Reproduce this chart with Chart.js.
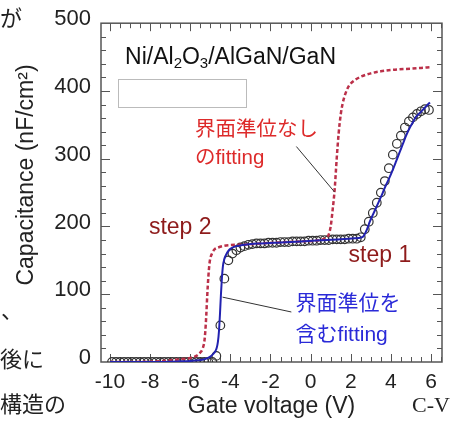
<!DOCTYPE html>
<html>
<head>
<meta charset="utf-8">
<script src="https://cdn.jsdelivr.net/npm/chart.js@4.4.0/dist/chart.umd.min.js"></script>
<style>
  html, body { margin: 0; padding: 0; background: #fff; }
  #wrap { position: relative; width: 450px; height: 423px; overflow: hidden; }
  #cv { position: absolute; left: 0; top: 0; }
  .frag { position: absolute; font-family: "Noto Sans CJK JP", sans-serif; font-size: 22px; line-height: 22px; color: #222; white-space: nowrap; }
  .cvlabel { font-family: "Liberation Serif", serif; font-size: 22px; line-height: 22px; }
</style>
</head>
<body>
<div id="wrap">
  <canvas id="cv" width="450" height="423"></canvas>
  <div class="frag" style="left:0;top:5px">が</div>
  <div class="frag" style="left:1px;top:297px">、</div>
  <div class="frag" style="left:0;top:346px">後に</div>
  <div class="frag" style="left:0;top:391px">構造の</div>
  <div class="frag cvlabel" style="left:412px;top:394px">C-V</div>
</div>
<script>
// Измеренные точки C-V (кружки)
const measVoltage = [
  -9.9, -9.7, -9.5, -9.3, -9.1, -8.9, -8.7, -8.5, -8.3, -8.1,
  -7.9, -7.7, -7.5, -7.3, -7.1, -6.9, -6.7, -6.5, -6.3, -6.1,
  -5.9, -5.7, -5.5, -5.3, -5.1, -4.9,
  -4.7, -4.5, -4.3, -4.1, -3.9, -3.7, -3.5, -3.3, -3.1, -2.9,
  -2.7, -2.5, -2.3, -2.1, -1.9, -1.7, -1.5, -1.3, -1.1, -0.9,
  -0.7, -0.5, -0.3, -0.1, 0.1, 0.3, 0.5, 0.7, 0.9, 1.1,
  1.3, 1.5, 1.7, 1.9, 2.1, 2.3, 2.5, 2.7, 2.9, 3.1,
  3.3, 3.5, 3.7, 3.9, 4.1, 4.3, 4.5, 4.7, 4.9, 5.1,
  5.3, 5.5, 5.7, 5.9
];
const measCap = [
  0, 0, 0, 0, 0, 0, 0, 0, 0, 0,
  0, 0, 0, 0, 0, 0, 0, 0, 0, 0,
  0, 0, 0, 0, 0, 0,
  9, 54, 123, 150, 160, 165, 169, 171, 173, 174,
  175, 175, 175, 176, 176, 176, 177, 177, 177, 178,
  178, 178, 178, 179, 179, 179, 180, 180, 180, 181,
  181, 181, 181, 182, 182, 182, 184, 196, 207, 220,
  235, 250, 267, 286, 306, 322, 334, 346, 355, 361,
  366, 370, 373, 372
];

// Фиттинг с учётом интерфейсных состояний (синяя линия)
const fitDitVoltage = [
  -10.0, -8.0, -7.0, -6.5, -6.0, -5.6, -5.3, -5.0, -4.85, -4.75,
  -4.68, -4.62, -4.57, -4.52, -4.47, -4.42, -4.37, -4.3, -4.2, -4.1,
  -4.0, -3.85, -3.7, -3.5, -3.2, -2.5, -1.5, -0.5, 0.5, 1.5,
  2.2, 2.5, 2.65, 2.8, 2.95, 3.1, 3.27, 3.45, 3.6, 3.77,
  3.93, 4.1, 4.26, 4.43, 4.59, 4.76, 4.93, 5.1, 5.26, 5.43,
  5.59, 5.75, 5.95
];
const fitDitCap = [
  0, 0, 0.5, 1, 1.5, 2.5, 4, 8, 12, 16,
  21, 30, 45, 70, 100, 125, 142, 152, 159, 164,
  167, 169.5, 171, 172, 173.5, 175, 176.5, 178, 179.5, 181,
  182.5, 183.5, 186, 195, 207, 217, 228, 240, 250, 262,
  272, 284, 296, 309, 321, 334, 345, 354, 362, 367,
  372, 377, 383
];

// Фиттинг без интерфейсных состояний (красный пунктир)
const fitNoDitVoltage = [
  -10.0, -8.0, -7.0, -6.5, -6.0, -5.7, -5.5, -5.38, -5.3, -5.25,
  -5.2, -5.15, -5.1, -5.05, -5.0, -4.9, -4.8, -4.6, -4.3, -4.0,
  -3.7, -3.2, -2.5, -1.5, -0.5, 0.3, 0.6, 0.8, 0.9, 1.0,
  1.1, 1.2, 1.3, 1.4, 1.5, 1.6, 1.7, 1.8, 1.9, 2.0,
  2.2, 2.5, 3.0, 3.5, 4.0, 5.0, 5.95
];
const fitNoDitCap = [
  0, 0.5, 2.5, 4, 6, 9, 14, 20, 30, 45,
  70, 100, 125, 143, 153, 161, 166, 169, 171.5, 172.5,
  173, 173.5, 175, 176.5, 178, 179.2, 181, 184, 188, 200,
  225, 255, 300, 338, 365, 382, 393, 401, 407, 411,
  416, 421, 426, 429, 431, 433, 435
];

// Подписи осей
const xTickValues = [-10, -8, -6, -4, -2, 0, 2, 4, 6];
const yTickValues = [0, 100, 200, 300, 400, 500];

const sansFamily = '"Liberation Sans", Arial, "Noto Sans CJK JP", sans-serif';
const darkText = '#222';

const toPoints = (xs, ys) => xs.map((x, i) => ({ x: x, y: ys[i] }));

// Рамка и засечки со всех четырёх сторон (внутрь)
const framePlugin = {
  id: 'frame',
  beforeDatasetsDraw(chart) {
    const { ctx, chartArea: a, scales: { x, y } } = chart;
    ctx.save();
    ctx.strokeStyle = '#555';
    ctx.lineWidth = 1.5;
    ctx.strokeRect(a.left, a.top, a.right - a.left, a.bottom - a.top);

    ctx.lineWidth = 1;
    ctx.beginPath();
    for (let v = -10; v <= 6.5; v += 0.5) {
      const px = Math.round(x.getPixelForValue(v)) + 0.5;
      const len = xTickValues.includes(v) ? 8 : 5;
      ctx.moveTo(px, a.bottom); ctx.lineTo(px, a.bottom - len);
      ctx.moveTo(px, a.top); ctx.lineTo(px, a.top + len);
    }
    for (let v = 20; v < 500; v += 20) {
      const py = Math.round(y.getPixelForValue(v)) + 0.5;
      const len = yTickValues.includes(v) ? 9 : 5;
      ctx.moveTo(a.left, py); ctx.lineTo(a.left + len, py);
      ctx.moveTo(a.right, py); ctx.lineTo(a.right - len, py);
    }
    ctx.stroke();
    ctx.restore();
  }
};

// Подписи внутри графика, выноски и заголовок оси Y
const notesPlugin = {
  id: 'notes',
  afterDatasetsDraw(chart) {
    const { ctx, scales: { x, y } } = chart;
    const px = v => x.getPixelForValue(v);
    const py = v => y.getPixelForValue(v);
    ctx.save();

    // пустая рамка легенды
    ctx.fillStyle = '#fff';
    ctx.strokeStyle = '#bbb';
    ctx.lineWidth = 1;
    const bx = Math.round(px(-9.6)) + 0.5, by = Math.round(py(418)) + 0.5;
    const bw = Math.round(px(-3.23) - px(-9.6)), bh = Math.round(py(377) - py(418));
    ctx.fillRect(bx, by, bw, bh);
    ctx.strokeRect(bx, by, bw, bh);

    // выноски
    ctx.strokeStyle = '#333';
    ctx.beginPath();
    ctx.moveTo(px(-0.71), py(318)); ctx.lineTo(px(1.19), py(251));
    ctx.moveTo(px(-4.39), py(95.7)); ctx.lineTo(px(-0.96), py(73.8));
    ctx.stroke();

    // Ni/Al2O3/AlGaN/GaN с индексами
    const runs = [
      { t: 'Ni/Al' }, { t: '2', sub: true }, { t: 'O' }, { t: '3', sub: true }, { t: '/AlGaN/GaN' }
    ];
    ctx.fillStyle = '#111';
    ctx.textBaseline = 'alphabetic';
    ctx.textAlign = 'left';
    let cx = px(-9.25);
    const baseY = py(440);
    runs.forEach(r => {
      const size = r.sub ? 15 : 23;
      ctx.font = size + 'px ' + sansFamily;
      ctx.fillText(r.t, cx, r.sub ? baseY + 4 : baseY);
      cx += ctx.measureText(r.t).width;
    });

    ctx.font = '20.5px ' + sansFamily;
    ctx.textBaseline = 'middle';
    ctx.fillStyle = '#dd2a2a';
    ctx.fillText('界面準位なし', px(-5.77), py(341.6));
    ctx.fillText('のfitting', px(-5.77), py(300.6));

    ctx.font = '21px ' + sansFamily;
    ctx.fillStyle = '#2a2ad8';
    ctx.fillText('界面準位を', px(-0.75), py(85));
    ctx.fillText('含むfitting', px(-0.75), py(39.6));

    ctx.font = '23px ' + sansFamily;
    ctx.textBaseline = 'alphabetic';
    ctx.fillStyle = '#8e1b1b';
    ctx.fillText('step 2', px(-8.06), py(189));
    ctx.fillText('step 1', px(1.89), py(148));

    // заголовок оси Y
    ctx.translate(27, 175);
    ctx.rotate(-Math.PI / 2);
    ctx.font = '23px ' + sansFamily;
    ctx.fillStyle = darkText;
    ctx.textAlign = 'center';
    ctx.textBaseline = 'middle';
    ctx.fillText('Capacitance (nF/cm²)', 0, 0);

    ctx.restore();
  }
};

const ctx = document.getElementById('cv').getContext('2d');
const chart = new Chart(ctx, {
  type: 'scatter',
  data: {
    datasets: [
      {
        label: '界面準位を含むfitting',
        data: toPoints(fitDitVoltage, fitDitCap),
        showLine: true,
        borderColor: '#2222b0',
        borderWidth: 2,
        pointRadius: 0,
        cubicInterpolationMode: 'monotone',
        fill: false
      },
      {
        label: '界面準位なしのfitting',
        data: toPoints(fitNoDitVoltage, fitNoDitCap),
        showLine: true,
        borderColor: '#bb3049',
        borderWidth: 2.5,
        borderDash: [4, 2.5],
        pointRadius: 0,
        cubicInterpolationMode: 'monotone',
        fill: false
      },
      {
        label: 'measured',
        data: toPoints(measVoltage, measCap),
        showLine: false,
        pointRadius: 4.3,
        pointBorderWidth: 1.2,
        pointBorderColor: '#333',
        pointBackgroundColor: 'rgba(0,0,0,0)'
      }
    ]
  },
  options: {
    responsive: false,
    animation: false,
    layout: { padding: { left: 0, top: 21, right: 8, bottom: 0 } },
    plugins: {
      legend: { display: false },
      tooltip: { enabled: false }
    },
    scales: {
      x: {
        type: 'linear',
        min: -10.45,
        max: 6.55,
        afterBuildTicks: scale => { scale.ticks = xTickValues.map(v => ({ value: v })); },
        afterFit: scale => { scale.height = 61; },
        grid: { display: false, drawTicks: false },
        border: { display: false },
        ticks: {
          font: { family: sansFamily, size: 21 },
          color: darkText,
          padding: 8,
          maxRotation: 0,
          autoSkip: false
        },
        title: {
          display: true,
          text: 'Gate voltage (V)',
          font: { family: sansFamily, size: 23 },
          color: darkText,
          padding: { top: 0, bottom: 3 }
        }
      },
      y: {
        type: 'linear',
        min: 0,
        max: 500,
        afterBuildTicks: scale => { scale.ticks = yTickValues.map(v => ({ value: v })); },
        afterFit: scale => { scale.width = 101; },
        grid: { display: false, drawTicks: false },
        border: { display: false },
        ticks: {
          font: { family: sansFamily, size: 22 },
          color: darkText,
          padding: 10,
          labelOffset: -4
        }
      }
    }
  },
  plugins: [framePlugin, notesPlugin]
});
</script>
</body>
</html>
